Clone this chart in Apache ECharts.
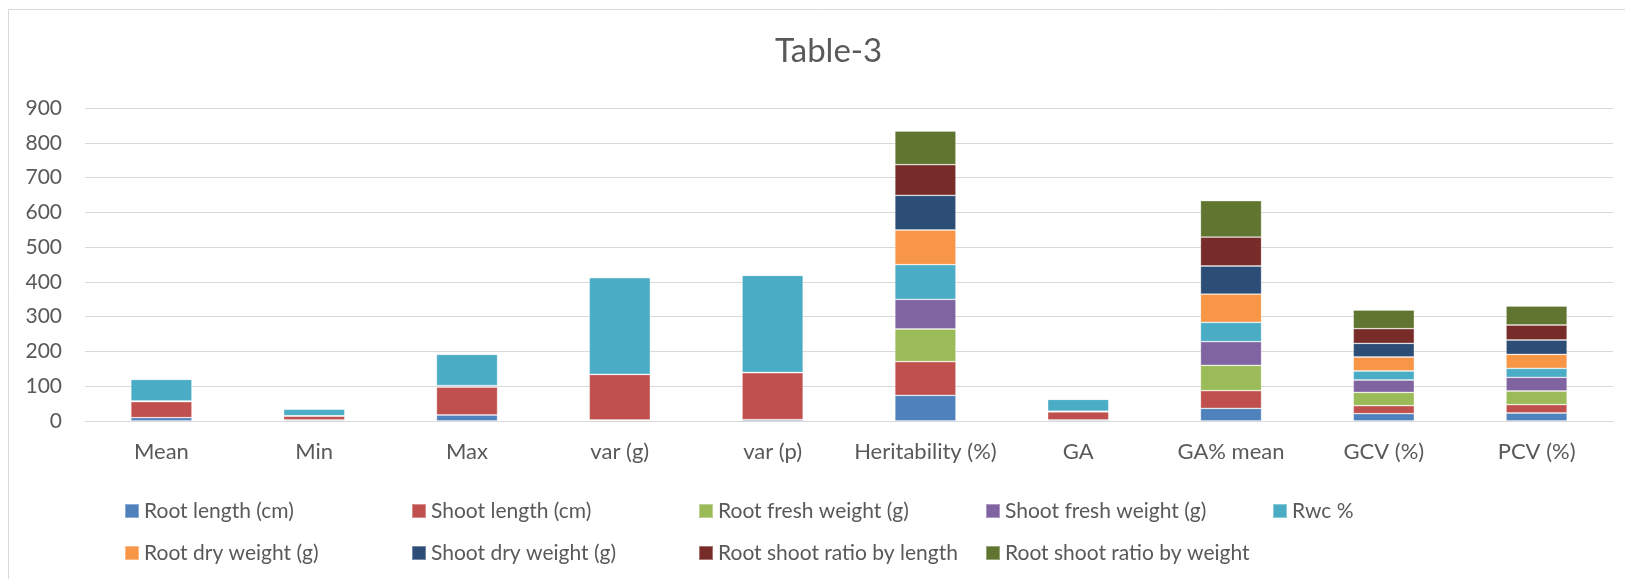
<!DOCTYPE html>
<html>
<head>
<meta charset="utf-8">
<title>Table-3</title>
<script src="https://cdn.jsdelivr.net/npm/echarts@6/dist/echarts.min.js"></script>
<style>
    html, body { margin: 0; padding: 0; background: #ffffff; }
    #main { width: 1625px; height: 579px; }
</style>
</head>
<body>
<div id="main"></div>
<script>
// categories on the x axis
var categories = ['Mean', 'Min', 'Max', 'var (g)', 'var (p)', 'Heritability (%)', 'GA', 'GA% mean', 'GCV (%)', 'PCV (%)'];

// values per trait
var rootLength       = [9.6, 3.0, 17.3, 2.9, 4.0, 73.8, 3.0, 36.4, 21.0, 23.0];
var shootLength      = [46.0, 11.4, 80.5, 131.0, 135.0, 96.8, 23.5, 50.8, 23.0, 24.0];
var rootFreshWeight  = [0.6, 0.2, 1.2, 0.1, 0.1, 93.9, 0.5, 72.8, 38.4, 39.3];
var shootFreshWeight = [1.5, 0.5, 3.0, 0.3, 0.4, 85.4, 1.0, 68.0, 35.5, 39.3];
var rwc              = [62.1, 19.4, 89.7, 277.7, 279.4, 99.6, 34.3, 55.7, 25.9, 25.8];
var rootDryWeight    = [0.5, 0.3, 0.8, 0.5, 0.5, 99.7, 0.3, 81.3, 40.2, 40.3];
var shootDryWeight   = [1.0, 0.6, 1.0, 0.8, 0.8, 99.7, 0.5, 80.7, 39.3, 41.2];
var ratioByLength    = [0.9, 0.8, 0.8, 0.7, 0.7, 88.1, 0.5, 83.3, 42.2, 43.1];
var ratioByWeight    = [1.4, 1.2, 1.2, 1.0, 0.8, 96.9, 0.6, 104.6, 53.7, 54.7];

var yTicks = [0, 100, 200, 300, 400, 500, 600, 700, 800, 900];

var seriesNames = ['Root length (cm)', 'Shoot length (cm)', 'Root fresh weight (g)', 'Shoot fresh weight (g)', 'Rwc %',
    'Root dry weight (g)', 'Shoot dry weight (g)', 'Root shoot ratio by length', 'Root shoot ratio by weight'];
var seriesData = [rootLength, shootLength, rootFreshWeight, shootFreshWeight, rwc,
    rootDryWeight, shootDryWeight, ratioByLength, ratioByWeight];

var chart = echarts.init(document.getElementById('main'), null, {
    width: 1625,
    height: 579
});

var font = 'Lato, "Open Sans", sans-serif';

option = {
    backgroundColor: '#ffffff',
    animation: false,
    color: ['#4f81bd', '#c0504d', '#9bbb59', '#8064a2', '#4bacc6', '#f79646', '#2c4d75', '#772c2a', '#5f7530'],
    title: {
        text: 'Table-3',
        left: 770,
        top: 30,
        textStyle: {
            fontFamily: font,
            fontSize: 33,
            fontWeight: 'normal',
            color: '#595959'
        }
    },
    grid: {
        left: 85,
        right: 12,
        top: 108,
        bottom: 158
    },
    legend: {
        left: 119,
        top: 490,
        width: 1440,
        itemWidth: 14,
        itemHeight: 14,
        itemGap: 10,
        icon: 'rect',
        data: seriesNames,
        textStyle: {
            fontFamily: font,
            fontSize: 21,
            color: '#595959',
            width: 257,
            lineHeight: 32,
            overflow: 'truncate'
        }
    },
    xAxis: [{
        type: 'category',
        data: categories,
        axisTick: { show: false },
        axisLine: { lineStyle: { color: '#d9d9d9', width: 1 } },
        axisLabel: {
            interval: 0,
            margin: 20,
            fontFamily: font,
            fontSize: 22,
            color: '#595959'
        }
    }],
    yAxis: [{
        type: 'value',
        min: yTicks[0],
        max: yTicks[yTicks.length - 1],
        interval: 100,
        axisLine: { show: false },
        axisTick: { show: false },
        splitLine: { lineStyle: { color: '#d9d9d9', width: 1 } },
        axisLabel: {
            margin: 23,
            fontFamily: font,
            fontSize: 21,
            color: '#595959'
        }
    }],
    graphic: [{
        type: 'rect',
        shape: { x: 8.5, y: 9.5, width: 1700, height: 700 },
        style: { fill: 'none', stroke: '#d9d9d9', lineWidth: 1 },
        silent: true
    }],
    series: seriesNames.map(function (name, i) {
        return {
            name: name,
            type: 'bar',
            stack: 'total',
            barWidth: '40%',
            itemStyle: {
                borderColor: 'rgba(255,255,255,0.35)',
                borderWidth: 0.8
            },
            data: seriesData[i]
        };
    })
};
chart.setOption(option);
</script>
</body>
</html>
